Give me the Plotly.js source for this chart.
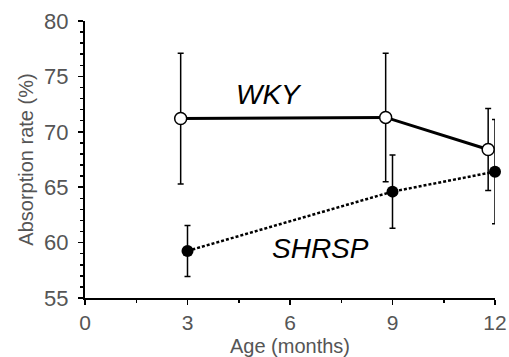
<!DOCTYPE html>
<html>
<head>
<meta charset="utf-8">
<script src="https://cdn.plot.ly/plotly-3.0.1.min.js"></script>
<style>html,body{margin:0;padding:0;background:#fff;}#chart{width:509px;height:357px;}</style>
</head>
<body>
<div id="chart"></div>
<script>
// Data
const wkyAge = [2.8, 8.8, 11.8];
const wkyRate = [71.2, 71.3, 68.4];
const wkyErr = [5.9, 5.8, 3.7];

const shrspAge = [3.0, 9.0, 12.0];
const shrspRate = [59.25, 64.6, 66.4];
const shrspErr = [2.3, 3.3, 4.7];

const xTicks = [0, 3, 6, 9, 12];
const yTicks = [55, 60, 65, 70, 75, 80];

const traces = [
  {
    x: wkyAge, y: wkyRate, type: 'scatter', mode: 'lines+markers', name: 'WKY',
    cliponaxis: false,
    line: {color: '#000', width: 3},
    marker: {symbol: 'circle', size: 12, color: '#fff', line: {color: '#000', width: 1.5}},
    error_y: {type: 'data', array: wkyErr, visible: true, color: '#000', thickness: 1.5, width: 3}
  },
  {
    x: shrspAge, y: shrspRate, type: 'scatter', mode: 'lines+markers', name: 'SHRSP',
    cliponaxis: false,
    line: {color: '#000', width: 2.5, dash: '3px,2px'},
    marker: {symbol: 'circle', size: 12, color: '#000'},
    error_y: {type: 'data', array: shrspErr, visible: true, color: '#000', thickness: 1.5, width: 3}
  }
];

const layout = {
  width: 509, height: 357,
  margin: {l: 85, r: 14, t: 21, b: 59, pad: 0},
  paper_bgcolor: '#fff', plot_bgcolor: '#fff',
  showlegend: false,
  font: {family: 'Liberation Sans, Arial, sans-serif', color: '#555', size: 21},
  xaxis: {
    range: [0, 12], tickvals: xTicks, ticktext: xTicks.map(String),
    showgrid: false, zeroline: false, showline: true, linecolor: '#000', linewidth: 2,
    ticks: 'outside', ticklen: 5, tickwidth: 1.5, tickcolor: '#000',
    minor: {dtick: 1.5, tick0: 0, ticks: 'outside', ticklen: 3, tickwidth: 1.5, tickcolor: '#000', showgrid: false},
    tickfont: {size: 21, color: '#555'},
    ticklabelstandoff: 0,
    title: {text: 'Age (months)', font: {size: 20, color: '#555'}, standoff: 6}
  },
  yaxis: {
    range: [55, 80], tickvals: yTicks, ticktext: yTicks.map(String),
    showgrid: false, zeroline: false, showline: true, linecolor: '#000', linewidth: 2,
    ticks: 'outside', ticklen: 5, tickwidth: 1.5, tickcolor: '#000',
    minor: {dtick: 1, tick0: 55, ticks: 'outside', ticklen: 3, tickwidth: 1.5, tickcolor: '#000', showgrid: false},
    tickfont: {size: 22, color: '#555'},
    ticklabelstandoff: 5,
    title: {text: 'Absorption rate (%)', font: {size: 20, color: '#555'}, standoff: 5}
  },
  annotations: [
    {x: 5.38, y: 73.4, xref: 'x', yref: 'y', text: '<i>WKY</i>', showarrow: false,
     font: {size: 28, color: '#000', family: 'Liberation Sans, Arial, sans-serif'}},
    {x: 6.88, y: 59.5, xref: 'x', yref: 'y', text: '<i>SHRSP</i>', showarrow: false,
     font: {size: 28, color: '#000', family: 'Liberation Sans, Arial, sans-serif'}}
  ]
};

Plotly.newPlot('chart', traces, layout, {staticPlot: true, displayModeBar: false});
</script>
</body>
</html>
